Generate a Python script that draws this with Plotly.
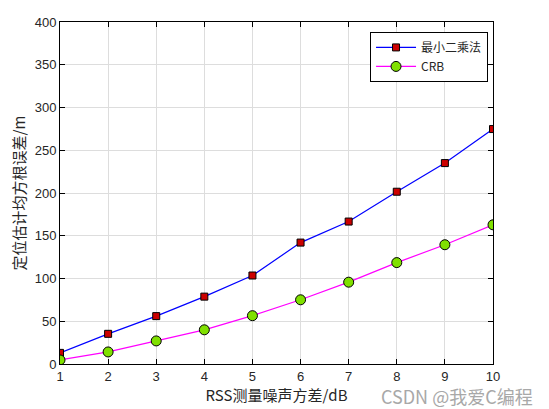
import plotly.graph_objects as go

x_vals = [1, 2, 3, 4, 5, 6, 7, 8, 9, 10]
ls_rmse = [13, 35.3, 56, 78.8, 103.5, 142, 166.6, 201.5, 235, 274.8]
crb_rmse = [4.7, 14.1, 27, 40, 56.5, 75.1, 95.7, 118.6, 139.5, 162.8]
series_names = ["最小二乘法", "CRB"]
x_title = "RSS测量噪声方差/dB"
y_title = "定位估计均方根误差/m"
x_ticks = [1, 2, 3, 4, 5, 6, 7, 8, 9, 10]
y_ticks = [0, 50, 100, 150, 200, 250, 300, 350, 400]

cjk = "Noto Sans CJK SC, Liberation Sans, Arial, sans-serif"

fig = go.Figure()
fig.add_trace(go.Scatter(
    x=x_vals, y=ls_rmse, name=series_names[0], mode="lines+markers",
    line=dict(color="#0000ff", width=1.2),
    marker=dict(symbol="square", size=7, color="#cc0000",
                line=dict(color="black", width=1)),
))
fig.add_trace(go.Scatter(
    x=x_vals, y=crb_rmse, name=series_names[1], mode="lines+markers",
    line=dict(color="#ff00ff", width=1.2),
    marker=dict(symbol="circle", size=10, color="#80e000",
                line=dict(color="black", width=1)),
))

axis_common = dict(
    showline=True, linecolor="black", linewidth=1, mirror="ticks",
    ticks="inside", ticklen=5, tickcolor="black",
    showgrid=True, gridcolor="#dddddd", gridwidth=1, zeroline=False,
    automargin=False,
    tickfont=dict(family="Liberation Sans, Arial, sans-serif", size=13, color="#262626"),
)

fig.update_layout(
    width=541, height=401,
    margin=dict(l=52, r=56, t=14, b=45),
    paper_bgcolor="white", plot_bgcolor="white",
    xaxis=dict(range=[1, 10], tickvals=x_ticks,
               title=dict(text=x_title, standoff=4,
                          font=dict(family=cjk, size=15, color="#262626")),
               **axis_common),
    yaxis=dict(range=[0, 400], tickvals=y_ticks,
               title=dict(text=y_title, standoff=10,
                          font=dict(family=cjk, size=15, color="#262626")),
               **axis_common),
    legend=dict(x=0.716, y=0.971, xanchor="left", yanchor="top",
                bgcolor="white", bordercolor="black", borderwidth=1,
                font=dict(family=cjk, size=12, color="#262626"),
                itemwidth=40, tracegroupgap=0),
    showlegend=True,
)

fig.add_annotation(text="CSDN @我爱C编程", xref="paper", yref="paper",
                   x=1.097, y=-0.095, xanchor="right", yanchor="middle",
                   showarrow=False,
                   font=dict(family=cjk, size=18, color="#a8a8a8"))

fig.write_html("out.html")
